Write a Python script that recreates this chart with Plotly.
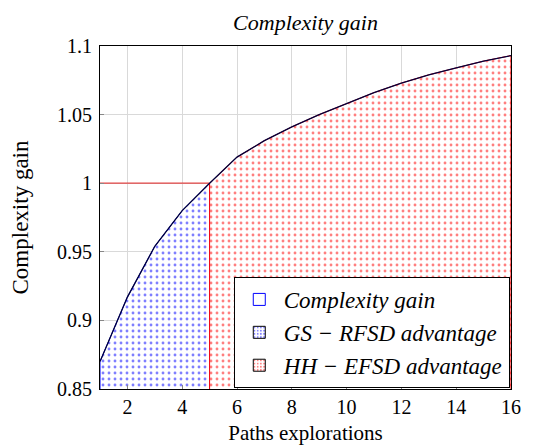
import plotly.graph_objects as go

# Data
paths = list(range(1, 17))
gain = [0.870, 0.917, 0.954, 0.980, 1.000, 1.019, 1.031, 1.041, 1.050,
        1.058, 1.066, 1.073, 1.079, 1.084, 1.089, 1.093]
split_x = 5
threshold = 1.0
y_min, y_max = 0.85, 1.1
x_ticks = [2, 4, 6, 8, 10, 12, 14, 16]
y_ticks = [0.85, 0.9, 0.95, 1.0, 1.05, 1.1]
y_tick_labels = ["0.85", "0.9", "0.95", "1", "1.05", "1.1"]
legend_names = ["<i>Complexity gain</i>", "<i>GS − RFSD advantage</i>",
                "<i>HH − EFSD advantage</i>"]

serif = "Liberation Serif, Times New Roman, serif"

i_split = paths.index(split_x)
bx = paths[:i_split + 1]
by = gain[:i_split + 1]
rx = paths[i_split:]
ry = gain[i_split:]

dot_blue = dict(shape=".", fgcolor="blue", bgcolor="white", size=6, solidity=0.18)
dot_red = dict(shape=".", fgcolor="red", bgcolor="white", size=6, solidity=0.18)

fig = go.Figure()

# blue region
fig.add_trace(go.Scatter(
    x=[bx[0]] + bx + [bx[-1]], y=[y_min] + by + [y_min],
    mode="lines", fill="toself", fillcolor="white", fillpattern=dot_blue,
    line=dict(color="blue", width=1), showlegend=False, hoverinfo="skip"))

# red region
fig.add_trace(go.Scatter(
    x=[rx[0]] + rx + [rx[-1]], y=[y_min] + ry + [y_min],
    mode="lines", fill="toself", fillcolor="white", fillpattern=dot_red,
    line=dict(color="red", width=1), showlegend=False, hoverinfo="skip"))

# threshold line
fig.add_trace(go.Scatter(
    x=[paths[0], split_x], y=[threshold, threshold], mode="lines",
    line=dict(color="rgba(225,40,40,0.85)", width=1.2), showlegend=False,
    hoverinfo="skip"))

# curve
fig.add_trace(go.Scatter(
    x=paths, y=gain, mode="lines", line=dict(color="#00003a", width=1.3),
    showlegend=False))

# legend entries (box symbols)
fig.add_trace(go.Bar(x=[None], y=[None], name=legend_names[0],
                     marker=dict(color="white", line=dict(color="blue", width=1))))
fig.add_trace(go.Bar(x=[None], y=[None], name=legend_names[1],
                     marker=dict(color="white", pattern=dict(shape=".", fgcolor="blue", bgcolor="white", size=4, solidity=0.25),
                                 line=dict(color="black", width=1))))
fig.add_trace(go.Bar(x=[None], y=[None], name=legend_names[2],
                     marker=dict(color="white", pattern=dict(shape=".", fgcolor="red", bgcolor="white", size=4, solidity=0.25),
                                 line=dict(color="black", width=1))))

fig.update_layout(
    width=525, height=437,
    margin=dict(l=92, r=22, t=38, b=56),
    paper_bgcolor="white", plot_bgcolor="white",
    font=dict(family=serif, size=20, color="black"),
    title=dict(text="<i>Complexity gain</i>", x=0.5, xref="paper", xanchor="center",
               y=0.968, yref="container", yanchor="middle",
               font=dict(family=serif, size=22)),
    legend=dict(x=0.997, y=0.003, xanchor="right", yanchor="bottom",
                bgcolor="white", bordercolor="black", borderwidth=1,
                font=dict(family=serif, size=23), tracegroupgap=0,
                itemwidth=39, traceorder="normal"),
    showlegend=True,
)

fig.update_xaxes(
    range=[1, 16], tickvals=x_ticks, showgrid=True, gridcolor="#d9d9d9",
    showline=True, linecolor="black", linewidth=1, mirror=True,
    ticks="inside", ticklen=4, tickcolor="#888888", zeroline=False,
    automargin=False,
    title=dict(text="Paths explorations", font=dict(family=serif, size=21), standoff=11),
    tickfont=dict(family=serif, size=20))

fig.update_yaxes(
    range=[y_min, y_max], tickvals=y_ticks, ticktext=y_tick_labels,
    showgrid=True, gridcolor="#d9d9d9",
    showline=True, linecolor="black", linewidth=1, mirror=True,
    ticks="inside", ticklen=4, tickcolor="#888888", zeroline=False,
    automargin=False, ticklabelstandoff=3,
    title=dict(text="Complexity gain", font=dict(family=serif, size=23), standoff=30),
    tickfont=dict(family=serif, size=20))

fig.write_html("out.html")
